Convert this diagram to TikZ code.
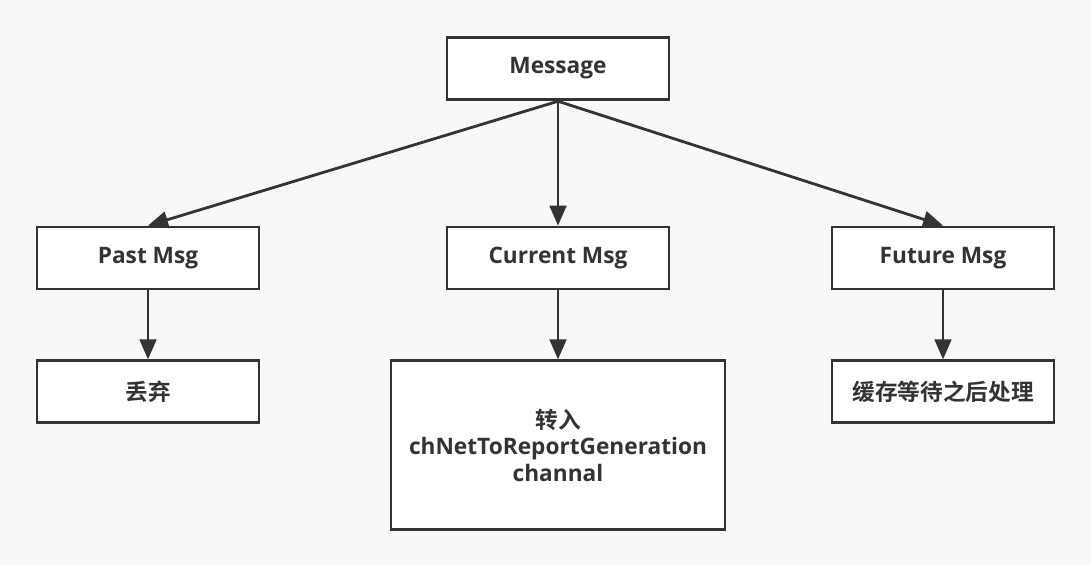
\documentclass[tikz,border=0pt]{standalone}
\usepackage{fontspec}
\setmainfont{Open Sans}
\newfontfamily\cjk{Noto Sans CJK SC}[BoldFont={Noto Sans CJK SC Bold}]
\usepackage{xcolor}
\usetikzlibrary{arrows.meta,positioning}

\definecolor{bgcol}{RGB}{248,248,248}
\definecolor{ink}{RGB}{51,51,51}

\begin{document}
\begin{tikzpicture}[
  x=0.75pt, y=-0.75pt,
  node distance=51.75pt and 1.0cm,
  box/.style={draw=ink, line width=2.1pt, fill=white, text=ink, minimum width=166.5pt, minimum height=46.5pt, align=center, font=\fontsize{17pt}{19.8pt}\selectfont\bfseries},
  arr/.style={-{Triangle[length=15pt,width=12.5pt]}, line width=2.1pt, draw=ink}
]
  % canvas
  \fill[bgcol] (0,0) rectangle (1091,565);
  \useasboundingbox (0,0) rectangle (1091,565);

  \node[box, minimum height=47pt] (msg) at (558,68.5) {Message};
  \node[box] (past) at (148,258) {Past Msg};
  \node[box] (current) at (558,258) {Current Msg};
  \node[box] (future) at (943,258) {Future Msg};

  \node[box, below=of past] (drop) {\cjk 丢弃};
  \node[box, below=of current, minimum width=250.5pt, minimum height=126.75pt] (forward) {{\cjk 转入}\\chNetToReportGeneration\\channal};
  \node[box, below=of future] (cache) {\cjk 缓存等待之后处理};

  \draw[arr] (msg.south) -- (past.north);
  \draw[arr] (msg.south) -- (current.north);
  \draw[arr] (msg.south) -- (future.north);
  \draw[arr] (past) -- (drop);
  \draw[arr] (current) -- (forward);
  \draw[arr] (future) -- (cache);
\end{tikzpicture}
\end{document}
